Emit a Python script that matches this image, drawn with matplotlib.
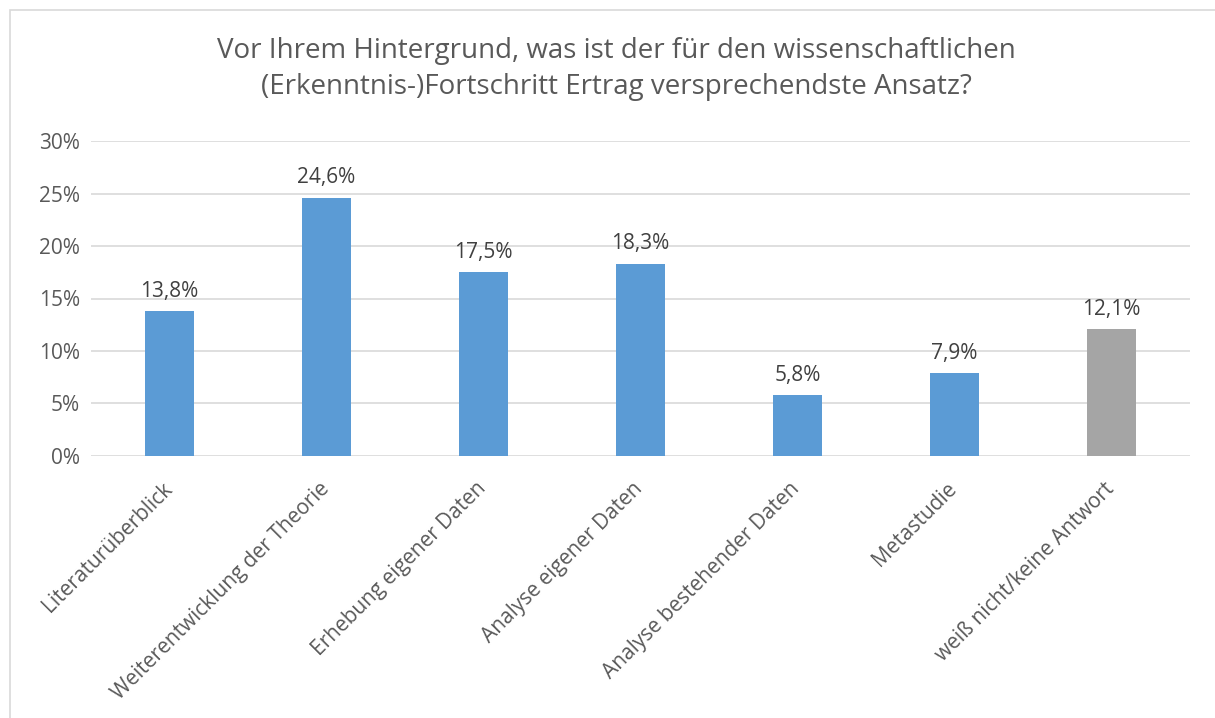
import matplotlib.pyplot as plt
import matplotlib.transforms as mtransforms
from matplotlib.patches import Rectangle

categories = ["Literaturüberblick", "Weiterentwicklung der Theorie",
              "Erhebung eigener Daten", "Analyse eigener Daten",
              "Analyse bestehender Daten", "Metastudie",
              "weiß nicht/keine Antwort"]
values = [13.8, 24.6, 17.5, 18.3, 5.8, 7.9, 12.1]
bar_colors = ["#5B9BD5"] * 6 + ["#A5A5A5"]
y_ticks = [0, 5, 10, 15, 20, 25, 30]

plt.rcParams['font.family'] = ['Open Sans', 'DejaVu Sans']
text_color = "#595959"

fig = plt.figure(figsize=(12.15, 7.18), dpi=100)
# chart border (cut off at right and bottom like the reference)
fig.patches.append(Rectangle((10 / 1215, -0.01), 1.2, 1 - 10 / 718 + 0.01,
                             transform=fig.transFigure, fill=False,
                             edgecolor="#D9D9D9", linewidth=1.2))

ax = fig.add_axes([91 / 1215, 1 - 456 / 718, (1190 - 91) / 1215, (456 - 141) / 718])
x = range(len(categories))
ax.bar(x, values, width=0.31, color=bar_colors, zorder=3)
for xi, v in zip(x, values):
    ax.text(xi, v + 0.9, f"{v:.1f}%".replace(".", ","), ha="center", va="bottom",
            fontsize=15, color="#404040")

ax.set_xlim(-0.5, len(categories) - 0.5)
ax.set_ylim(0, 30)
ax.set_yticks(y_ticks)
ax.set_yticklabels([f"{t}%" for t in y_ticks], fontsize=15, color=text_color)
ax.yaxis.grid(True, color="#D9D9D9", linewidth=1.2, zorder=0)
ax.set_xticks(list(x))
ax.set_xticklabels(categories, rotation=45, ha="right", rotation_mode="anchor",
                   fontsize=15, color=text_color)
ax.tick_params(length=0, pad=8)
ax.tick_params(axis="x", pad=16)
shift = mtransforms.ScaledTranslation(-8 / 100, 0, fig.dpi_scale_trans)
for lab in ax.get_xticklabels():
    lab.set_transform(lab.get_transform() + shift)
for s in ax.spines.values():
    s.set_visible(False)

fig.text(0.5 + 9 / 1215, 1 - 69 / 718,
         "Vor Ihrem Hintergrund, was ist der für den wissenschaftlichen\n(Erkenntnis-)Fortschritt Ertrag versprechendste Ansatz?",
         ha="center", va="center", fontsize=20, color=text_color, linespacing=1.4)

fig.savefig("out.png", dpi=100)
